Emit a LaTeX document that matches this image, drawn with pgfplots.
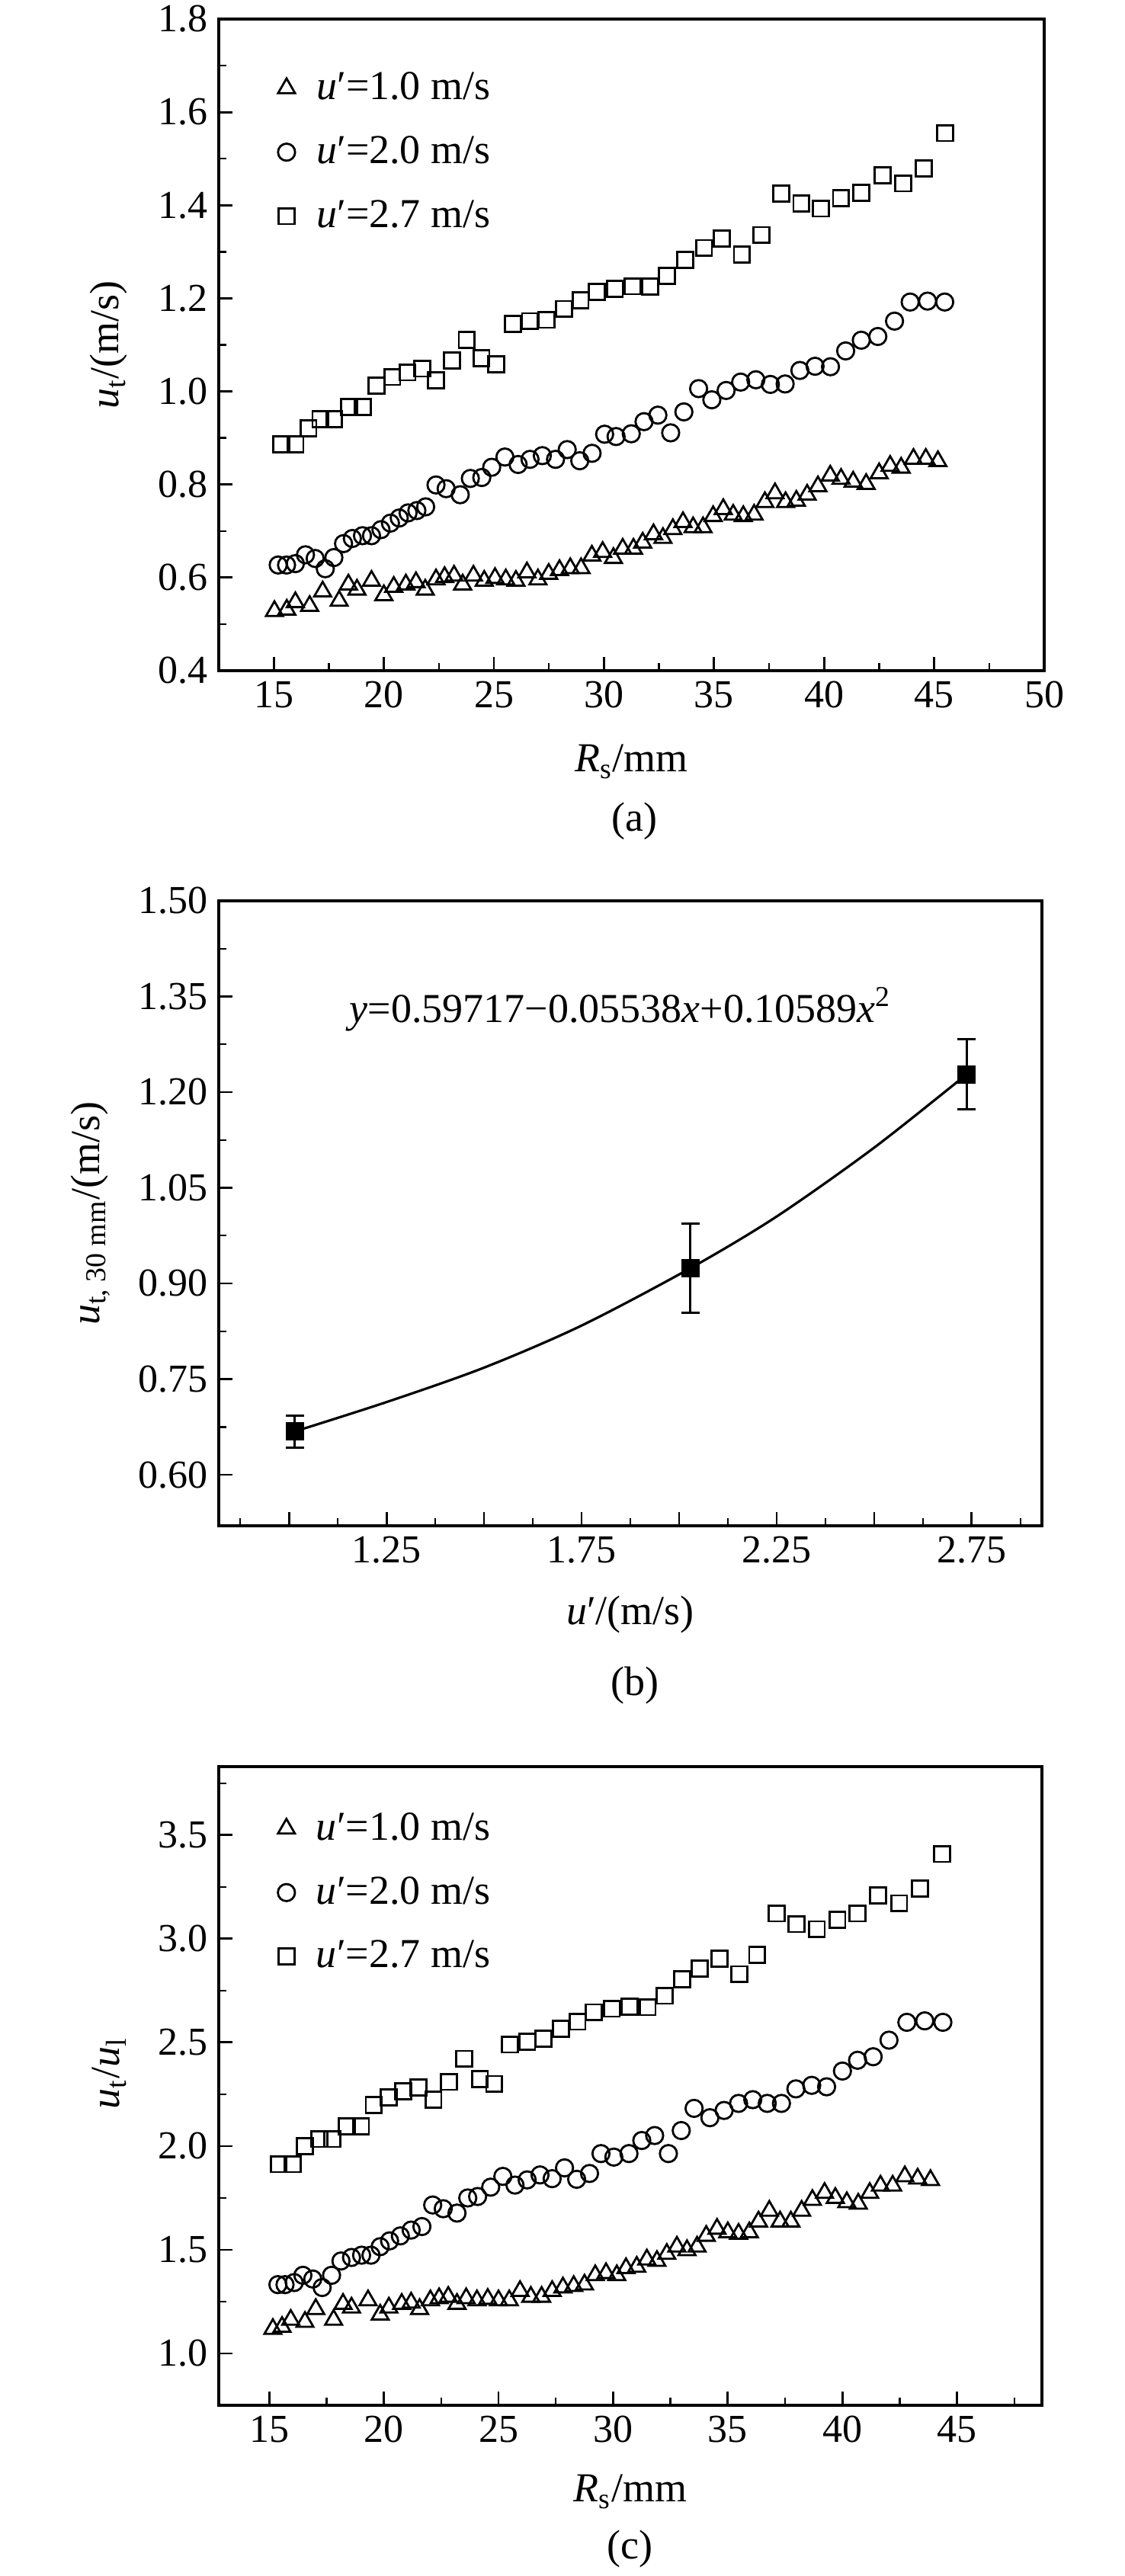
\documentclass[border=0pt]{standalone}
\usepackage{fontspec}
\setmainfont{Liberation Serif}
\usepackage{pgfplots}
\pgfplotsset{compat=1.18}
\pgfplotsset{
  myax/.style={
    scale only axis,
    axis line style={line width=0.8pt},
    tick align=inside,
    xtick pos=bottom, ytick pos=left,
    major tick length=4.5pt, minor tick length=2.5pt,
    every tick/.append style={black, line width=0.7pt},
    every minor tick/.append style={black, line width=0.6pt},
    /pgf/number format/assume math mode=true,
    tick label style={font=\fontsize{13}{15}\selectfont},
    label style={font=\fontsize{13.5}{16}\selectfont},
    legend style={draw=none, fill=none, font=\fontsize{13.5}{16}\selectfont, row sep=6.5pt},
    legend cell align=left,
  },
  tri/.style={only marks, mark=triangle, mark size=3.2pt, mark options={solid, fill=white, draw=black, line width=0.7pt}},
  cir/.style={only marks, mark=o, mark size=2.8pt, mark options={solid, fill=white, draw=black, line width=0.7pt}},
  sqr/.style={only marks, mark=square, mark size=2.6pt, mark options={solid, fill=white, draw=black, line width=0.7pt}},
}
\newcommand{\leg}[1]{\hspace{5pt}\textit{u}′=#1 m/s}
\begin{document}
\begin{tikzpicture}
\useasboundingbox (0,0) rectangle (369pt,-845pt);
% ---------------- (a) ----------------
\begin{axis}[myax,
  at={(71.75pt,-6.25pt)}, anchor=north west,
  width=270.75pt, height=213.75pt,
  xmin=12.5, xmax=50, ymin=0.4, ymax=1.8,
  xtick={15,20,...,50}, minor xtick={17.5,22.5,...,47.5},
  ytick={0.4,0.6,...,1.8}, minor ytick={0.5,0.7,...,1.7},
  yticklabel style={/pgf/number format/.cd, fixed, fixed zerofill, precision=1},
  xlabel={\textit{R}\textsubscript{s}/mm},
  ylabel={\textit{u}\textsubscript{t}/(m/s)},
  xlabel style={at={(axis description cs:0.5,-0.14)}, anchor=center},
  ylabel style={at={(axis description cs:-0.133,0.5)}, anchor=center},
  legend style={at={(0.06,0.938)}, anchor=north west},
]
\addplot[tri] coordinates {
(15.03,0.528)(15.59,0.531)(15.98,0.547)(16.63,0.539)(17.22,0.570)(17.97,0.550)
(18.39,0.585)(18.78,0.574)(19.44,0.593)(20.0,0.562)(20.45,0.580)(21.0,0.585)
(21.46,0.590)(21.88,0.574)(22.37,0.596)(22.76,0.601)(23.19,0.604)(23.58,0.585)
(24.07,0.604)(24.56,0.593)(25.05,0.599)(25.54,0.596)(26.0,0.593)(26.5,0.611)
(27.0,0.596)(27.49,0.608)(27.98,0.616)(28.47,0.620)(28.96,0.620)(29.45,0.647)
(29.94,0.655)(30.43,0.642)(30.85,0.662)(31.34,0.662)(31.76,0.675)(32.25,0.693)
(32.68,0.685)(33.13,0.704)(33.59,0.719)(34.05,0.708)(34.5,0.708)(34.96,0.732)
(35.42,0.747)(35.87,0.735)(36.33,0.732)(36.82,0.735)(37.31,0.762)(37.77,0.781)
(38.25,0.762)(38.74,0.765)(39.23,0.778)(39.72,0.796)(40.28,0.819)(40.77,0.812)
(41.32,0.806)(41.91,0.801)(42.5,0.824)(43.0,0.840)(43.5,0.836)(44.06,0.855)
(44.62,0.855)(45.17,0.850)
};
\addlegendentry{\leg{1.0}}
\addplot[cir] coordinates {
(15.2,0.627)(15.58,0.627)(15.98,0.630)(16.44,0.649)(16.88,0.641)(17.34,0.619)
(17.73,0.643)(18.17,0.673)(18.57,0.684)(19.03,0.690)(19.44,0.690)(19.87,0.703)
(20.30,0.717)(20.70,0.728)(21.1,0.739)(21.5,0.744)(21.9,0.752)(22.37,0.799)
(22.83,0.791)(23.47,0.778)(23.93,0.813)(24.45,0.815)(24.9,0.837)(25.5,0.859)
(26.1,0.843)(26.64,0.854)(27.2,0.862)(27.8,0.854)(28.33,0.875)(28.9,0.851)
(29.46,0.867)(30.03,0.908)(30.55,0.903)(31.24,0.909)(31.82,0.935)(32.45,0.949)
(33.03,0.911)(33.63,0.956)(34.30,1.006)(34.9,0.982)(35.55,1.002)(36.21,1.020)
(36.9,1.025)(37.56,1.015)(38.23,1.016)(38.9,1.045)(39.59,1.054)(40.29,1.053)
(40.98,1.087)(41.69,1.110)(42.44,1.118)(43.2,1.151)(43.91,1.192)(44.7,1.194)
(45.48,1.192)
};
\addlegendentry{\leg{2.0}}
\addplot[sqr] coordinates {
(15.33,0.886)(15.98,0.886)(16.57,0.921)(17.12,0.940)(17.74,0.940)(18.42,0.967)
(19.04,0.967)(19.66,1.012)(20.38,1.031)(21.07,1.041)(21.75,1.049)(22.37,1.024)
(23.09,1.066)(23.77,1.111)(24.43,1.071)(25.11,1.058)(25.86,1.145)(26.64,1.151)
(27.39,1.154)(28.18,1.177)(28.93,1.196)(29.68,1.214)(30.49,1.220)(31.31,1.226)
(32.09,1.225)(32.87,1.248)(33.69,1.283)(34.54,1.308)(35.35,1.328)(36.27,1.294)
(37.15,1.336)(38.06,1.425)(38.97,1.404)(39.85,1.393)(40.77,1.415)(41.68,1.427)
(42.66,1.464)(43.6,1.447)(44.52,1.479)(45.5,1.555)
};
\addlegendentry{\leg{2.7}}
\end{axis}
\node[font=\fontsize{13.5}{16}\selectfont] at (208pt,-269.5pt) {(a)};
% ---------------- (b) ----------------
\begin{axis}[myax,
  at={(71.75pt,-295.5pt)}, anchor=north west,
  width=270pt, height=205pt,
  xmin=0.82, xmax=2.93, ymin=0.52, ymax=1.50,
  xtick={1,1.25,...,2.75}, xticklabels={,1.25,,1.75,,2.25,,2.75},
  minor xtick={0.875,1.125,...,2.875},
  ytick={0.60,0.75,...,1.50}, minor ytick={0.675,0.825,...,1.425},
  yticklabel style={/pgf/number format/.cd, fixed, fixed zerofill, precision=2},
  xlabel={\textit{u}′/(m/s)},
  ylabel={\textit{u}\textsubscript{t, 30 mm}/(m/s)},
  xlabel style={at={(axis description cs:0.5,-0.1415)}, anchor=center},
  ylabel style={at={(axis description cs:-0.156,0.5)}, anchor=center},
]
\addplot[smooth, black, line width=0.8pt, no marks] coordinates {
(1.015,0.668)(1.25,0.714)(1.5,0.768)(1.75,0.834)(2.029,0.924)(2.25,1.005)(2.5,1.113)(2.737,1.228)
};
\addplot[only marks, mark=square*, mark size=2.8pt, mark options={fill=black, draw=black},
  error bars/.cd, y dir=both, y explicit,
  error bar style={line width=0.8pt, black},
  error mark options={rotate=90, mark size=3pt, line width=0.8pt, black}]
coordinates {
(1.015,0.668) +- (0,0.025)
(2.029,0.924) +- (0,0.070)
(2.737,1.228) +- (0,0.055)
};
\node[font=\fontsize{13.5}{16}\selectfont] at (axis cs:1.85,1.33)
  {\textit{y}=0.59717−0.05538\textit{x}+0.10589\textit{x}\textsuperscript{2}};
\end{axis}
\node[font=\fontsize{13.5}{16}\selectfont] at (208.25pt,-552.75pt) {(b)};
% ---------------- (c) ----------------
\begin{axis}[myax,
  at={(71.75pt,-579.5pt)}, anchor=north west,
  width=270pt, height=209.5pt,
  xmin=12.8, xmax=48.7, ymin=0.75, ymax=3.83,
  xtick={15,20,...,45}, minor xtick={17.5,22.5,...,47.5},
  ytick={1.0,1.5,...,3.5}, minor ytick={0.75,1.25,...,3.75},
  yticklabel style={/pgf/number format/.cd, fixed, fixed zerofill, precision=1},
  xlabel={\textit{R}\textsubscript{s}/mm},
  ylabel={\textit{u}\textsubscript{t}/\textit{u}\textsubscript{l}},
  xlabel style={at={(axis description cs:0.5,-0.135)}, anchor=center},
  ylabel style={at={(axis description cs:-0.133,0.52)}, anchor=center},
  legend style={at={(0.06,0.948)}, anchor=north west},
]
\addplot[tri] coordinates {
(15.16,1.118)(15.56,1.128)(15.94,1.162)(16.56,1.152)(17.03,1.214)(17.81,1.162)
(18.22,1.239)(18.59,1.221)(19.31,1.256)(19.84,1.187)(20.22,1.221)(20.78,1.239)
(21.19,1.245)(21.56,1.214)(22.03,1.256)(22.41,1.266)(22.81,1.273)(23.19,1.239)
(23.59,1.266)(24.06,1.256)(24.53,1.263)(25.0,1.256)(25.47,1.256)(25.94,1.301)
(26.41,1.273)(26.88,1.273)(27.34,1.301)(27.81,1.318)(28.28,1.325)(28.75,1.332)
(29.22,1.377)(29.69,1.387)(30.16,1.377)(30.56,1.411)(31.03,1.418)(31.47,1.453)
(31.91,1.446)(32.34,1.480)(32.78,1.515)(33.22,1.498)(33.66,1.515)(34.06,1.567)
(34.53,1.601)(35.0,1.584)(35.47,1.577)(35.94,1.584)(36.34,1.636)(36.81,1.688)
(37.28,1.636)(37.75,1.636)(38.22,1.688)(38.69,1.740)(39.22,1.774)(39.69,1.750)
(40.19,1.729)(40.69,1.722)(41.19,1.774)(41.66,1.809)(42.19,1.809)(42.72,1.854)
(43.28,1.843)(43.84,1.836)
};
\addlegendentry{\leg{1.0}}
\addplot[cir] coordinates {
(15.38,1.332)(15.69,1.332)(16.09,1.342)(16.47,1.377)(16.9,1.359)(17.31,1.318)
(17.72,1.377)(18.13,1.446)(18.59,1.463)(19.03,1.474)(19.44,1.474)(19.84,1.515)
(20.25,1.543)(20.72,1.567)(21.19,1.595)(21.66,1.612)(22.13,1.716)(22.59,1.698)
(23.19,1.677)(23.66,1.750)(24.09,1.757)(24.66,1.802)(25.19,1.854)(25.72,1.812)
(26.25,1.837)(26.81,1.861)(27.34,1.843)(27.88,1.895)(28.41,1.840)(28.97,1.868)
(29.47,1.964)(30.03,1.947)(30.69,1.964)(31.25,2.027)(31.81,2.051)(32.41,1.964)
(32.97,2.075)(33.53,2.182)(34.22,2.137)(34.84,2.172)(35.47,2.206)(36.09,2.224)
(36.72,2.206)(37.34,2.206)(37.97,2.276)(38.66,2.293)(39.31,2.286)(40.0,2.362)
(40.66,2.414)(41.34,2.431)(42.03,2.511)(42.81,2.597)(43.59,2.604)(44.38,2.597)
};
\addlegendentry{\leg{2.0}}
\addplot[sqr] coordinates {
(15.41,1.913)(16.03,1.913)(16.56,1.999)(17.19,2.034)(17.75,2.034)(18.38,2.096)
(19.0,2.096)(19.56,2.199)(20.22,2.234)(20.84,2.265)(21.5,2.282)(22.16,2.224)
(22.84,2.310)(23.5,2.421)(24.19,2.324)(24.81,2.300)(25.5,2.490)(26.25,2.504)
(26.97,2.517)(27.72,2.566)(28.44,2.600)(29.16,2.645)(29.94,2.663)(30.72,2.673)
(31.5,2.670)(32.25,2.725)(33.0,2.804)(33.78,2.856)(34.63,2.905)(35.5,2.829)
(36.28,2.922)(37.13,3.122)(38.0,3.071)(38.88,3.046)(39.78,3.091)(40.66,3.122)
(41.56,3.209)(42.47,3.171)(43.38,3.243)(44.34,3.409)
};
\addlegendentry{\leg{2.7}}
\end{axis}
\node[font=\fontsize{13.5}{16}\selectfont] at (206.5pt,-836pt) {(c)};
\end{tikzpicture}
\end{document}
